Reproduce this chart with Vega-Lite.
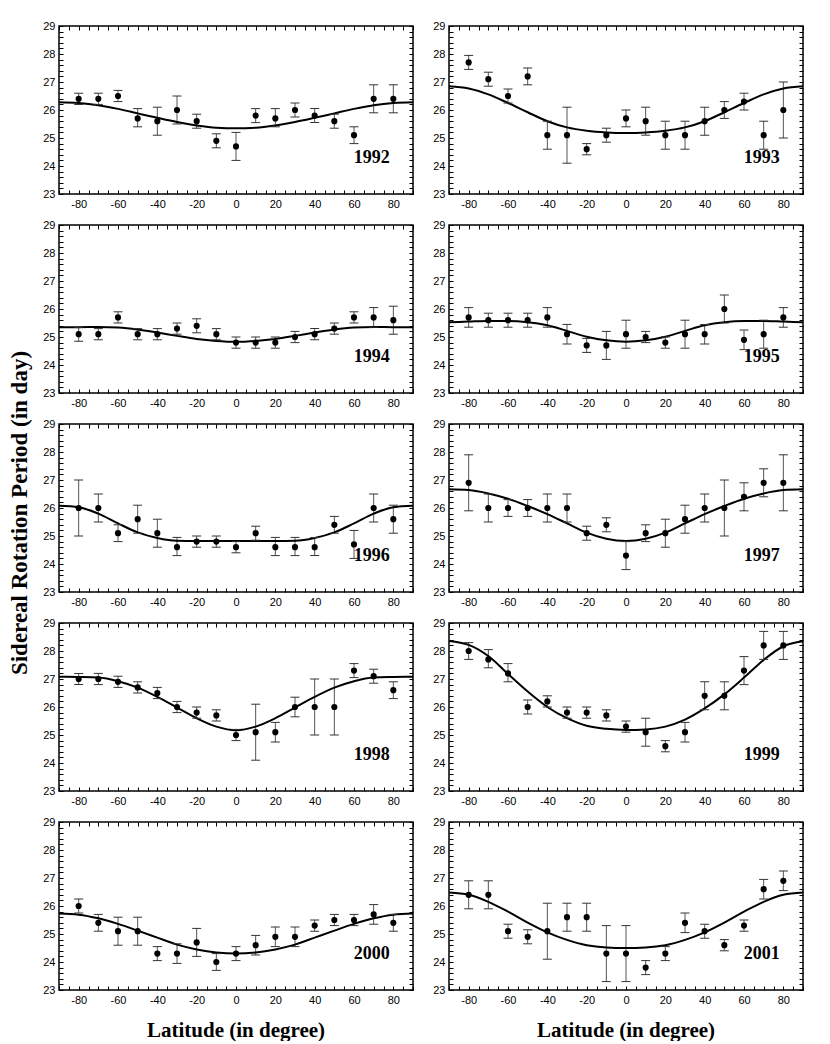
{
  "$schema": "https://vega.github.io/schema/vega-lite/v6.json",
  "padding": {"left": 8, "top": 19, "right": 0, "bottom": 0},
  "data": {
    "values": [
      {"year": 1992, "lat": -80, "p": 26.4, "lo": 26.2, "hi": 26.6},
      {"year": 1992, "lat": -70, "p": 26.4, "lo": 26.2, "hi": 26.6},
      {"year": 1992, "lat": -60, "p": 26.5, "lo": 26.3, "hi": 26.7},
      {"year": 1992, "lat": -50, "p": 25.7, "lo": 25.4, "hi": 26.05},
      {"year": 1992, "lat": -40, "p": 25.6, "lo": 25.1, "hi": 26.1},
      {"year": 1992, "lat": -30, "p": 26.0, "lo": 25.5, "hi": 26.5},
      {"year": 1992, "lat": -20, "p": 25.6, "lo": 25.35, "hi": 25.85},
      {"year": 1992, "lat": -10, "p": 24.9, "lo": 24.65, "hi": 25.15},
      {"year": 1992, "lat": 0, "p": 24.7, "lo": 24.2, "hi": 25.2},
      {"year": 1992, "lat": 10, "p": 25.8, "lo": 25.55, "hi": 26.05},
      {"year": 1992, "lat": 20, "p": 25.7, "lo": 25.4, "hi": 26.05},
      {"year": 1992, "lat": 30, "p": 26.0, "lo": 25.75, "hi": 26.25},
      {"year": 1992, "lat": 40, "p": 25.8, "lo": 25.55, "hi": 26.05},
      {"year": 1992, "lat": 50, "p": 25.6, "lo": 25.35, "hi": 25.85},
      {"year": 1992, "lat": 60, "p": 25.1, "lo": 24.8, "hi": 25.4},
      {"year": 1992, "lat": 70, "p": 26.4, "lo": 25.9, "hi": 26.9},
      {"year": 1992, "lat": 80, "p": 26.4, "lo": 25.9, "hi": 26.9},

      {"year": 1993, "lat": -80, "p": 27.7, "lo": 27.45, "hi": 27.95},
      {"year": 1993, "lat": -70, "p": 27.1, "lo": 26.85, "hi": 27.35},
      {"year": 1993, "lat": -60, "p": 26.5, "lo": 26.25, "hi": 26.75},
      {"year": 1993, "lat": -50, "p": 27.2, "lo": 26.9, "hi": 27.5},
      {"year": 1993, "lat": -40, "p": 25.1, "lo": 24.6, "hi": 25.6},
      {"year": 1993, "lat": -30, "p": 25.1, "lo": 24.1, "hi": 26.1},
      {"year": 1993, "lat": -20, "p": 24.6, "lo": 24.4, "hi": 24.8},
      {"year": 1993, "lat": -10, "p": 25.1, "lo": 24.85, "hi": 25.35},
      {"year": 1993, "lat": 0, "p": 25.7, "lo": 25.4, "hi": 26.0},
      {"year": 1993, "lat": 10, "p": 25.6, "lo": 25.1, "hi": 26.1},
      {"year": 1993, "lat": 20, "p": 25.1, "lo": 24.6, "hi": 25.6},
      {"year": 1993, "lat": 30, "p": 25.1, "lo": 24.6, "hi": 25.6},
      {"year": 1993, "lat": 40, "p": 25.6, "lo": 25.1, "hi": 26.1},
      {"year": 1993, "lat": 50, "p": 26.0, "lo": 25.7, "hi": 26.3},
      {"year": 1993, "lat": 60, "p": 26.3, "lo": 26.0, "hi": 26.6},
      {"year": 1993, "lat": 70, "p": 25.1, "lo": 24.6, "hi": 25.6},
      {"year": 1993, "lat": 80, "p": 26.0, "lo": 25.0, "hi": 27.0},

      {"year": 1994, "lat": -80, "p": 25.1, "lo": 24.85, "hi": 25.35},
      {"year": 1994, "lat": -70, "p": 25.1, "lo": 24.9, "hi": 25.3},
      {"year": 1994, "lat": -60, "p": 25.7, "lo": 25.5, "hi": 25.9},
      {"year": 1994, "lat": -50, "p": 25.1, "lo": 24.9, "hi": 25.3},
      {"year": 1994, "lat": -40, "p": 25.1, "lo": 24.9, "hi": 25.3},
      {"year": 1994, "lat": -30, "p": 25.3, "lo": 25.1, "hi": 25.5},
      {"year": 1994, "lat": -20, "p": 25.4, "lo": 25.15, "hi": 25.65},
      {"year": 1994, "lat": -10, "p": 25.1, "lo": 24.9, "hi": 25.3},
      {"year": 1994, "lat": 0, "p": 24.8, "lo": 24.6, "hi": 25.0},
      {"year": 1994, "lat": 10, "p": 24.8, "lo": 24.6, "hi": 25.0},
      {"year": 1994, "lat": 20, "p": 24.8, "lo": 24.6, "hi": 25.0},
      {"year": 1994, "lat": 30, "p": 25.0, "lo": 24.8, "hi": 25.2},
      {"year": 1994, "lat": 40, "p": 25.1, "lo": 24.9, "hi": 25.3},
      {"year": 1994, "lat": 50, "p": 25.3, "lo": 25.1, "hi": 25.5},
      {"year": 1994, "lat": 60, "p": 25.7, "lo": 25.5, "hi": 25.9},
      {"year": 1994, "lat": 70, "p": 25.7, "lo": 25.35, "hi": 26.05},
      {"year": 1994, "lat": 80, "p": 25.6, "lo": 25.1, "hi": 26.1},

      {"year": 1995, "lat": -80, "p": 25.7, "lo": 25.35, "hi": 26.05},
      {"year": 1995, "lat": -70, "p": 25.6, "lo": 25.35, "hi": 25.85},
      {"year": 1995, "lat": -60, "p": 25.6, "lo": 25.35, "hi": 25.85},
      {"year": 1995, "lat": -50, "p": 25.6, "lo": 25.35, "hi": 25.85},
      {"year": 1995, "lat": -40, "p": 25.7, "lo": 25.35, "hi": 26.05},
      {"year": 1995, "lat": -30, "p": 25.1, "lo": 24.75, "hi": 25.45},
      {"year": 1995, "lat": -20, "p": 24.7, "lo": 24.45, "hi": 24.95},
      {"year": 1995, "lat": -10, "p": 24.7, "lo": 24.2, "hi": 25.2},
      {"year": 1995, "lat": 0, "p": 25.1, "lo": 24.6, "hi": 25.6},
      {"year": 1995, "lat": 10, "p": 25.0, "lo": 24.8, "hi": 25.2},
      {"year": 1995, "lat": 20, "p": 24.8, "lo": 24.6, "hi": 25.0},
      {"year": 1995, "lat": 30, "p": 25.1, "lo": 24.6, "hi": 25.6},
      {"year": 1995, "lat": 40, "p": 25.1, "lo": 24.75, "hi": 25.45},
      {"year": 1995, "lat": 50, "p": 26.0, "lo": 25.5, "hi": 26.5},
      {"year": 1995, "lat": 60, "p": 24.9, "lo": 24.55, "hi": 25.25},
      {"year": 1995, "lat": 70, "p": 25.1, "lo": 24.6, "hi": 25.6},
      {"year": 1995, "lat": 80, "p": 25.7, "lo": 25.35, "hi": 26.05},

      {"year": 1996, "lat": -80, "p": 26.0, "lo": 25.0, "hi": 27.0},
      {"year": 1996, "lat": -70, "p": 26.0, "lo": 25.5, "hi": 26.5},
      {"year": 1996, "lat": -60, "p": 25.1, "lo": 24.8, "hi": 25.4},
      {"year": 1996, "lat": -50, "p": 25.6, "lo": 25.1, "hi": 26.1},
      {"year": 1996, "lat": -40, "p": 25.1, "lo": 24.6, "hi": 25.6},
      {"year": 1996, "lat": -30, "p": 24.6, "lo": 24.3, "hi": 24.95},
      {"year": 1996, "lat": -20, "p": 24.8, "lo": 24.6, "hi": 25.0},
      {"year": 1996, "lat": -10, "p": 24.8, "lo": 24.6, "hi": 25.0},
      {"year": 1996, "lat": 0, "p": 24.6, "lo": 24.4, "hi": 24.8},
      {"year": 1996, "lat": 10, "p": 25.1, "lo": 24.85, "hi": 25.35},
      {"year": 1996, "lat": 20, "p": 24.6, "lo": 24.3, "hi": 24.95},
      {"year": 1996, "lat": 30, "p": 24.6, "lo": 24.3, "hi": 24.95},
      {"year": 1996, "lat": 40, "p": 24.6, "lo": 24.3, "hi": 24.95},
      {"year": 1996, "lat": 50, "p": 25.4, "lo": 25.1, "hi": 25.7},
      {"year": 1996, "lat": 60, "p": 24.7, "lo": 24.2, "hi": 25.2},
      {"year": 1996, "lat": 70, "p": 26.0, "lo": 25.5, "hi": 26.5},
      {"year": 1996, "lat": 80, "p": 25.6, "lo": 25.1, "hi": 26.1},

      {"year": 1997, "lat": -80, "p": 26.9, "lo": 25.9, "hi": 27.9},
      {"year": 1997, "lat": -70, "p": 26.0, "lo": 25.5, "hi": 26.5},
      {"year": 1997, "lat": -60, "p": 26.0, "lo": 25.7, "hi": 26.3},
      {"year": 1997, "lat": -50, "p": 26.0, "lo": 25.7, "hi": 26.3},
      {"year": 1997, "lat": -40, "p": 26.0, "lo": 25.5, "hi": 26.5},
      {"year": 1997, "lat": -30, "p": 26.0, "lo": 25.5, "hi": 26.5},
      {"year": 1997, "lat": -20, "p": 25.1, "lo": 24.85, "hi": 25.35},
      {"year": 1997, "lat": -10, "p": 25.4, "lo": 25.15, "hi": 25.65},
      {"year": 1997, "lat": 0, "p": 24.3, "lo": 23.8, "hi": 24.8},
      {"year": 1997, "lat": 10, "p": 25.1, "lo": 24.8, "hi": 25.4},
      {"year": 1997, "lat": 20, "p": 25.1, "lo": 24.6, "hi": 25.6},
      {"year": 1997, "lat": 30, "p": 25.6, "lo": 25.1, "hi": 26.1},
      {"year": 1997, "lat": 40, "p": 26.0, "lo": 25.5, "hi": 26.5},
      {"year": 1997, "lat": 50, "p": 26.0, "lo": 25.0, "hi": 27.0},
      {"year": 1997, "lat": 60, "p": 26.4, "lo": 25.9, "hi": 26.9},
      {"year": 1997, "lat": 70, "p": 26.9, "lo": 26.4, "hi": 27.4},
      {"year": 1997, "lat": 80, "p": 26.9, "lo": 25.9, "hi": 27.9},

      {"year": 1998, "lat": -80, "p": 27.0, "lo": 26.8, "hi": 27.2},
      {"year": 1998, "lat": -70, "p": 27.0, "lo": 26.8, "hi": 27.2},
      {"year": 1998, "lat": -60, "p": 26.9, "lo": 26.7, "hi": 27.1},
      {"year": 1998, "lat": -50, "p": 26.7, "lo": 26.5, "hi": 26.9},
      {"year": 1998, "lat": -40, "p": 26.5, "lo": 26.3, "hi": 26.7},
      {"year": 1998, "lat": -30, "p": 26.0, "lo": 25.8, "hi": 26.2},
      {"year": 1998, "lat": -20, "p": 25.8, "lo": 25.6, "hi": 26.0},
      {"year": 1998, "lat": -10, "p": 25.7, "lo": 25.5, "hi": 25.9},
      {"year": 1998, "lat": 0, "p": 25.0, "lo": 24.8, "hi": 25.2},
      {"year": 1998, "lat": 10, "p": 25.1, "lo": 24.1, "hi": 26.1},
      {"year": 1998, "lat": 20, "p": 25.1, "lo": 24.75, "hi": 25.45},
      {"year": 1998, "lat": 30, "p": 26.0, "lo": 25.65, "hi": 26.35},
      {"year": 1998, "lat": 40, "p": 26.0, "lo": 25.0, "hi": 27.0},
      {"year": 1998, "lat": 50, "p": 26.0, "lo": 25.0, "hi": 27.0},
      {"year": 1998, "lat": 60, "p": 27.3, "lo": 27.05, "hi": 27.55},
      {"year": 1998, "lat": 70, "p": 27.1, "lo": 26.85, "hi": 27.35},
      {"year": 1998, "lat": 80, "p": 26.6, "lo": 26.3, "hi": 26.9},

      {"year": 1999, "lat": -80, "p": 28.0, "lo": 27.7, "hi": 28.3},
      {"year": 1999, "lat": -70, "p": 27.7, "lo": 27.4, "hi": 28.05},
      {"year": 1999, "lat": -60, "p": 27.2, "lo": 26.9, "hi": 27.55},
      {"year": 1999, "lat": -50, "p": 26.0, "lo": 25.75, "hi": 26.25},
      {"year": 1999, "lat": -40, "p": 26.2, "lo": 26.0, "hi": 26.4},
      {"year": 1999, "lat": -30, "p": 25.8, "lo": 25.6, "hi": 26.0},
      {"year": 1999, "lat": -20, "p": 25.8, "lo": 25.6, "hi": 26.0},
      {"year": 1999, "lat": -10, "p": 25.7, "lo": 25.5, "hi": 25.9},
      {"year": 1999, "lat": 0, "p": 25.3, "lo": 25.1, "hi": 25.5},
      {"year": 1999, "lat": 10, "p": 25.1, "lo": 24.6, "hi": 25.6},
      {"year": 1999, "lat": 20, "p": 24.6, "lo": 24.4, "hi": 24.8},
      {"year": 1999, "lat": 30, "p": 25.1, "lo": 24.75, "hi": 25.45},
      {"year": 1999, "lat": 40, "p": 26.4, "lo": 25.9, "hi": 26.9},
      {"year": 1999, "lat": 50, "p": 26.4, "lo": 25.9, "hi": 26.9},
      {"year": 1999, "lat": 60, "p": 27.3, "lo": 26.8, "hi": 27.8},
      {"year": 1999, "lat": 70, "p": 28.2, "lo": 27.7, "hi": 28.7},
      {"year": 1999, "lat": 80, "p": 28.2, "lo": 27.7, "hi": 28.7},

      {"year": 2000, "lat": -80, "p": 26.0, "lo": 25.75, "hi": 26.25},
      {"year": 2000, "lat": -70, "p": 25.4, "lo": 25.1, "hi": 25.7},
      {"year": 2000, "lat": -60, "p": 25.1, "lo": 24.6, "hi": 25.6},
      {"year": 2000, "lat": -50, "p": 25.1, "lo": 24.6, "hi": 25.6},
      {"year": 2000, "lat": -40, "p": 24.3, "lo": 24.05, "hi": 24.55},
      {"year": 2000, "lat": -30, "p": 24.3, "lo": 23.95, "hi": 24.65},
      {"year": 2000, "lat": -20, "p": 24.7, "lo": 24.2, "hi": 25.2},
      {"year": 2000, "lat": -10, "p": 24.0, "lo": 23.7, "hi": 24.3},
      {"year": 2000, "lat": 0, "p": 24.3, "lo": 24.05, "hi": 24.55},
      {"year": 2000, "lat": 10, "p": 24.6, "lo": 24.25, "hi": 24.95},
      {"year": 2000, "lat": 20, "p": 24.9, "lo": 24.55, "hi": 25.25},
      {"year": 2000, "lat": 30, "p": 24.9, "lo": 24.55, "hi": 25.25},
      {"year": 2000, "lat": 40, "p": 25.3, "lo": 25.1, "hi": 25.5},
      {"year": 2000, "lat": 50, "p": 25.5, "lo": 25.3, "hi": 25.7},
      {"year": 2000, "lat": 60, "p": 25.5, "lo": 25.3, "hi": 25.7},
      {"year": 2000, "lat": 70, "p": 25.7, "lo": 25.35, "hi": 26.05},
      {"year": 2000, "lat": 80, "p": 25.4, "lo": 25.1, "hi": 25.7},

      {"year": 2001, "lat": -80, "p": 26.4, "lo": 25.9, "hi": 26.9},
      {"year": 2001, "lat": -70, "p": 26.4, "lo": 25.9, "hi": 26.9},
      {"year": 2001, "lat": -60, "p": 25.1, "lo": 24.85, "hi": 25.35},
      {"year": 2001, "lat": -50, "p": 24.9, "lo": 24.65, "hi": 25.15},
      {"year": 2001, "lat": -40, "p": 25.1, "lo": 24.1, "hi": 26.1},
      {"year": 2001, "lat": -30, "p": 25.6, "lo": 25.1, "hi": 26.1},
      {"year": 2001, "lat": -20, "p": 25.6, "lo": 25.1, "hi": 26.1},
      {"year": 2001, "lat": -10, "p": 24.3, "lo": 23.3, "hi": 25.3},
      {"year": 2001, "lat": 0, "p": 24.3, "lo": 23.3, "hi": 25.3},
      {"year": 2001, "lat": 10, "p": 23.8, "lo": 23.55, "hi": 24.05},
      {"year": 2001, "lat": 20, "p": 24.3, "lo": 24.05, "hi": 24.55},
      {"year": 2001, "lat": 30, "p": 25.4, "lo": 25.05, "hi": 25.75},
      {"year": 2001, "lat": 40, "p": 25.1, "lo": 24.85, "hi": 25.35},
      {"year": 2001, "lat": 50, "p": 24.6, "lo": 24.4, "hi": 24.8},
      {"year": 2001, "lat": 60, "p": 25.3, "lo": 25.1, "hi": 25.5},
      {"year": 2001, "lat": 70, "p": 26.6, "lo": 26.25, "hi": 26.95},
      {"year": 2001, "lat": 80, "p": 26.9, "lo": 26.55, "hi": 27.25},

      {"year": 1992, "lat": -90, "f": 26.28}, {"year": 1992, "lat": -80, "f": 26.25}, {"year": 1992, "lat": -70, "f": 26.17}, {"year": 1992, "lat": -60, "f": 26.04}, {"year": 1992, "lat": -50, "f": 25.88}, {"year": 1992, "lat": -40, "f": 25.72}, {"year": 1992, "lat": -30, "f": 25.57}, {"year": 1992, "lat": -20, "f": 25.45}, {"year": 1992, "lat": -10, "f": 25.37}, {"year": 1992, "lat": 0, "f": 25.35},
      {"year": 1992, "lat": 10, "f": 25.37}, {"year": 1992, "lat": 20, "f": 25.45}, {"year": 1992, "lat": 30, "f": 25.57}, {"year": 1992, "lat": 40, "f": 25.72}, {"year": 1992, "lat": 50, "f": 25.88}, {"year": 1992, "lat": 60, "f": 26.04}, {"year": 1992, "lat": 70, "f": 26.17}, {"year": 1992, "lat": 80, "f": 26.25}, {"year": 1992, "lat": 90, "f": 26.28},

      {"year": 1993, "lat": -90, "f": 26.85}, {"year": 1993, "lat": -80, "f": 26.77}, {"year": 1993, "lat": -70, "f": 26.56}, {"year": 1993, "lat": -60, "f": 26.25}, {"year": 1993, "lat": -50, "f": 25.92}, {"year": 1993, "lat": -40, "f": 25.6}, {"year": 1993, "lat": -30, "f": 25.38}, {"year": 1993, "lat": -20, "f": 25.26}, {"year": 1993, "lat": -10, "f": 25.2}, {"year": 1993, "lat": 0, "f": 25.18},
      {"year": 1993, "lat": 10, "f": 25.2}, {"year": 1993, "lat": 20, "f": 25.26}, {"year": 1993, "lat": 30, "f": 25.38}, {"year": 1993, "lat": 40, "f": 25.6}, {"year": 1993, "lat": 50, "f": 25.92}, {"year": 1993, "lat": 60, "f": 26.25}, {"year": 1993, "lat": 70, "f": 26.56}, {"year": 1993, "lat": 80, "f": 26.77}, {"year": 1993, "lat": 90, "f": 26.85},

      {"year": 1994, "lat": -90, "f": 25.35}, {"year": 1994, "lat": -80, "f": 25.35}, {"year": 1994, "lat": -70, "f": 25.36}, {"year": 1994, "lat": -60, "f": 25.34}, {"year": 1994, "lat": -50, "f": 25.27}, {"year": 1994, "lat": -40, "f": 25.16}, {"year": 1994, "lat": -30, "f": 25.04}, {"year": 1994, "lat": -20, "f": 24.93}, {"year": 1994, "lat": -10, "f": 24.86}, {"year": 1994, "lat": 0, "f": 24.83},
      {"year": 1994, "lat": 10, "f": 24.86}, {"year": 1994, "lat": 20, "f": 24.93}, {"year": 1994, "lat": 30, "f": 25.04}, {"year": 1994, "lat": 40, "f": 25.16}, {"year": 1994, "lat": 50, "f": 25.27}, {"year": 1994, "lat": 60, "f": 25.34}, {"year": 1994, "lat": 70, "f": 25.36}, {"year": 1994, "lat": 80, "f": 25.35}, {"year": 1994, "lat": 90, "f": 25.35},

      {"year": 1995, "lat": -90, "f": 25.53}, {"year": 1995, "lat": -80, "f": 25.55}, {"year": 1995, "lat": -70, "f": 25.57}, {"year": 1995, "lat": -60, "f": 25.57}, {"year": 1995, "lat": -50, "f": 25.53}, {"year": 1995, "lat": -40, "f": 25.42}, {"year": 1995, "lat": -30, "f": 25.22}, {"year": 1995, "lat": -20, "f": 25.01}, {"year": 1995, "lat": -10, "f": 24.88}, {"year": 1995, "lat": 0, "f": 24.83},
      {"year": 1995, "lat": 10, "f": 24.88}, {"year": 1995, "lat": 20, "f": 25.01}, {"year": 1995, "lat": 30, "f": 25.22}, {"year": 1995, "lat": 40, "f": 25.42}, {"year": 1995, "lat": 50, "f": 25.53}, {"year": 1995, "lat": 60, "f": 25.57}, {"year": 1995, "lat": 70, "f": 25.57}, {"year": 1995, "lat": 80, "f": 25.55}, {"year": 1995, "lat": 90, "f": 25.53},

      {"year": 1996, "lat": -90, "f": 26.08}, {"year": 1996, "lat": -80, "f": 26.03}, {"year": 1996, "lat": -70, "f": 25.8}, {"year": 1996, "lat": -60, "f": 25.45}, {"year": 1996, "lat": -50, "f": 25.13}, {"year": 1996, "lat": -40, "f": 24.93}, {"year": 1996, "lat": -30, "f": 24.83}, {"year": 1996, "lat": -20, "f": 24.82}, {"year": 1996, "lat": -10, "f": 24.82}, {"year": 1996, "lat": 0, "f": 24.82},
      {"year": 1996, "lat": 10, "f": 24.82}, {"year": 1996, "lat": 20, "f": 24.82}, {"year": 1996, "lat": 30, "f": 24.83}, {"year": 1996, "lat": 40, "f": 24.93}, {"year": 1996, "lat": 50, "f": 25.13}, {"year": 1996, "lat": 60, "f": 25.45}, {"year": 1996, "lat": 70, "f": 25.8}, {"year": 1996, "lat": 80, "f": 26.03}, {"year": 1996, "lat": 90, "f": 26.08},

      {"year": 1997, "lat": -90, "f": 26.67}, {"year": 1997, "lat": -80, "f": 26.64}, {"year": 1997, "lat": -70, "f": 26.52}, {"year": 1997, "lat": -60, "f": 26.33}, {"year": 1997, "lat": -50, "f": 26.07}, {"year": 1997, "lat": -40, "f": 25.78}, {"year": 1997, "lat": -30, "f": 25.45}, {"year": 1997, "lat": -20, "f": 25.12}, {"year": 1997, "lat": -10, "f": 24.9}, {"year": 1997, "lat": 0, "f": 24.82},
      {"year": 1997, "lat": 10, "f": 24.9}, {"year": 1997, "lat": 20, "f": 25.12}, {"year": 1997, "lat": 30, "f": 25.45}, {"year": 1997, "lat": 40, "f": 25.78}, {"year": 1997, "lat": 50, "f": 26.07}, {"year": 1997, "lat": 60, "f": 26.33}, {"year": 1997, "lat": 70, "f": 26.52}, {"year": 1997, "lat": 80, "f": 26.64}, {"year": 1997, "lat": 90, "f": 26.67},

      {"year": 1998, "lat": -90, "f": 27.08}, {"year": 1998, "lat": -80, "f": 27.07}, {"year": 1998, "lat": -70, "f": 27.05}, {"year": 1998, "lat": -60, "f": 26.92}, {"year": 1998, "lat": -50, "f": 26.69}, {"year": 1998, "lat": -40, "f": 26.36}, {"year": 1998, "lat": -30, "f": 25.98}, {"year": 1998, "lat": -20, "f": 25.6}, {"year": 1998, "lat": -10, "f": 25.3}, {"year": 1998, "lat": 0, "f": 25.17},
      {"year": 1998, "lat": 10, "f": 25.3}, {"year": 1998, "lat": 20, "f": 25.6}, {"year": 1998, "lat": 30, "f": 25.98}, {"year": 1998, "lat": 40, "f": 26.36}, {"year": 1998, "lat": 50, "f": 26.69}, {"year": 1998, "lat": 60, "f": 26.92}, {"year": 1998, "lat": 70, "f": 27.05}, {"year": 1998, "lat": 80, "f": 27.07}, {"year": 1998, "lat": 90, "f": 27.08},

      {"year": 1999, "lat": -90, "f": 28.36}, {"year": 1999, "lat": -80, "f": 28.22}, {"year": 1999, "lat": -70, "f": 27.82}, {"year": 1999, "lat": -60, "f": 27.18}, {"year": 1999, "lat": -50, "f": 26.55}, {"year": 1999, "lat": -40, "f": 26.0}, {"year": 1999, "lat": -30, "f": 25.6}, {"year": 1999, "lat": -20, "f": 25.33}, {"year": 1999, "lat": -10, "f": 25.22}, {"year": 1999, "lat": 0, "f": 25.18},
      {"year": 1999, "lat": 10, "f": 25.2}, {"year": 1999, "lat": 20, "f": 25.3}, {"year": 1999, "lat": 30, "f": 25.55}, {"year": 1999, "lat": 40, "f": 25.95}, {"year": 1999, "lat": 50, "f": 26.45}, {"year": 1999, "lat": 60, "f": 27.05}, {"year": 1999, "lat": 70, "f": 27.68}, {"year": 1999, "lat": 80, "f": 28.17}, {"year": 1999, "lat": 90, "f": 28.35},

      {"year": 2000, "lat": -90, "f": 25.73}, {"year": 2000, "lat": -80, "f": 25.69}, {"year": 2000, "lat": -70, "f": 25.56}, {"year": 2000, "lat": -60, "f": 25.36}, {"year": 2000, "lat": -50, "f": 25.12}, {"year": 2000, "lat": -40, "f": 24.87}, {"year": 2000, "lat": -30, "f": 24.62}, {"year": 2000, "lat": -20, "f": 24.45}, {"year": 2000, "lat": -10, "f": 24.34}, {"year": 2000, "lat": 0, "f": 24.3},
      {"year": 2000, "lat": 10, "f": 24.34}, {"year": 2000, "lat": 20, "f": 24.45}, {"year": 2000, "lat": 30, "f": 24.62}, {"year": 2000, "lat": 40, "f": 24.87}, {"year": 2000, "lat": 50, "f": 25.12}, {"year": 2000, "lat": 60, "f": 25.36}, {"year": 2000, "lat": 70, "f": 25.56}, {"year": 2000, "lat": 80, "f": 25.69}, {"year": 2000, "lat": 90, "f": 25.73},

      {"year": 2001, "lat": -90, "f": 26.48}, {"year": 2001, "lat": -80, "f": 26.4}, {"year": 2001, "lat": -70, "f": 26.15}, {"year": 2001, "lat": -60, "f": 25.8}, {"year": 2001, "lat": -50, "f": 25.41}, {"year": 2001, "lat": -40, "f": 25.06}, {"year": 2001, "lat": -30, "f": 24.79}, {"year": 2001, "lat": -20, "f": 24.6}, {"year": 2001, "lat": -10, "f": 24.52}, {"year": 2001, "lat": 0, "f": 24.5},
      {"year": 2001, "lat": 10, "f": 24.52}, {"year": 2001, "lat": 20, "f": 24.6}, {"year": 2001, "lat": 30, "f": 24.79}, {"year": 2001, "lat": 40, "f": 25.06}, {"year": 2001, "lat": 50, "f": 25.41}, {"year": 2001, "lat": 60, "f": 25.8}, {"year": 2001, "lat": 70, "f": 26.15}, {"year": 2001, "lat": 80, "f": 26.4}, {"year": 2001, "lat": 90, "f": 26.48}
    ]
  },
  "transform": [
    {"calculate": "floor((datum.year - 1992) / 2)", "as": "r"},
    {"calculate": "(datum.year - 1992) % 2", "as": "c"}
  ],
  "facet": {
    "row": {
      "field": "r", "type": "ordinal",
      "header": {
        "labels": false,
        "title": "Sidereal Rotation Period (in day)",
        "titleFont": "Liberation Serif", "titleFontWeight": "bold", "titleFontSize": 23,
        "titlePadding": 0
      }
    },
    "column": {
      "field": "c", "type": "ordinal", "title": null,
      "header": {
        "labelOrient": "bottom",
        "labelExpr": "'Latitude (in degree)'",
        "labelFont": "Liberation Serif", "labelFontWeight": "bold", "labelFontSize": 21,
        "labelColor": "black",
        "labelPadding": 14
      }
    }
  },
  "spacing": {"row": 8, "column": 14},
  "resolve": {"axis": {"x": "independent", "y": "independent"}},
  "spec": {
    "width": 354,
    "height": 168,
    "resolve": {"axis": {"x": "independent", "y": "independent"}},
    "layer": [
      {
        "transform": [{"filter": "isValid(datum.p)"}],
        "mark": {"type": "rule", "color": "#555", "strokeWidth": 1},
        "encoding": {
          "x": {"field": "lat", "type": "quantitative", "scale": {"domain": [-90, 90], "nice": false},
                "axis": {"orient": "bottom", "values": [-90,-85,-80,-75,-70,-65,-60,-55,-50,-45,-40,-35,-30,-25,-20,-15,-10,-5,0,5,10,15,20,25,30,35,40,45,50,55,60,65,70,75,80,85,90],
                         "labelExpr": "datum.value % 20 == 0 ? '' + datum.value : ''", "labelOverlap": false, "labelFlush": false}},
          "y": {"field": "lo", "type": "quantitative", "scale": {"domain": [23, 29], "nice": false, "zero": false},
                "axis": {"orient": "left", "values": [23,23.2,23.4,23.6,23.8,24,24.2,24.4,24.6,24.8,25,25.2,25.4,25.6,25.8,26,26.2,26.4,26.6,26.8,27,27.2,27.4,27.6,27.8,28,28.2,28.4,28.6,28.8,29],
                         "labelExpr": "datum.value % 1 == 0 ? '' + datum.value : ''", "labelOverlap": false, "labelFlush": false}},
          "y2": {"field": "hi"}
        }
      },
      {
        "transform": [{"filter": "isValid(datum.f)"}],
        "mark": {"type": "line", "color": "black", "strokeWidth": 2, "interpolate": "monotone"},
        "encoding": {
          "x": {"field": "lat", "type": "quantitative", "scale": {"domain": [-90, 90], "nice": false},
                "axis": {"orient": "top", "labels": false, "values": [-90,-85,-80,-75,-70,-65,-60,-55,-50,-45,-40,-35,-30,-25,-20,-15,-10,-5,0,5,10,15,20,25,30,35,40,45,50,55,60,65,70,75,80,85,90]}},
          "y": {"field": "f", "type": "quantitative", "scale": {"domain": [23, 29], "nice": false, "zero": false},
                "axis": {"orient": "right", "labels": false, "values": [23,23.2,23.4,23.6,23.8,24,24.2,24.4,24.6,24.8,25,25.2,25.4,25.6,25.8,26,26.2,26.4,26.6,26.8,27,27.2,27.4,27.6,27.8,28,28.2,28.4,28.6,28.8,29]}}
        }
      },
      {
        "transform": [{"filter": "isValid(datum.p)"}],
        "mark": {"type": "tick", "orient": "horizontal", "size": 9, "thickness": 1, "color": "#333", "opacity": 1},
        "encoding": {
          "x": {"field": "lat", "type": "quantitative", "axis": null},
          "y": {"field": "lo", "type": "quantitative", "axis": null}
        }
      },
      {
        "transform": [{"filter": "isValid(datum.p)"}],
        "mark": {"type": "tick", "orient": "horizontal", "size": 9, "thickness": 1, "color": "#333", "opacity": 1},
        "encoding": {
          "x": {"field": "lat", "type": "quantitative", "axis": null},
          "y": {"field": "hi", "type": "quantitative", "axis": null}
        }
      },
      {
        "transform": [{"filter": "isValid(datum.p)"}],
        "mark": {"type": "circle", "color": "black", "size": 38, "opacity": 1},
        "encoding": {
          "x": {"field": "lat", "type": "quantitative", "axis": null},
          "y": {"field": "p", "type": "quantitative", "axis": null}
        }
      },
      {
        "transform": [{"aggregate": [{"op": "count", "as": "n"}], "groupby": ["year", "r", "c"]}],
        "mark": {"type": "text", "font": "Liberation Serif", "fontWeight": "bold", "fontSize": 18, "color": "black", "align": "center", "baseline": "middle"},
        "encoding": {
          "x": {"datum": 69, "type": "quantitative", "axis": null},
          "y": {"datum": 24.3, "type": "quantitative", "axis": null},
          "text": {"field": "year", "type": "nominal"}
        }
      }
    ]
  },
  "config": {
    "font": "Liberation Sans",
    "view": {"stroke": "black", "strokeWidth": 1.5},
    "axis": {
      "domain": false, "grid": false, "title": null,
      "labelFont": "Liberation Sans", "labelFontSize": 11, "labelColor": "black",
      "tickColor": "black", "tickWidth": 1, "tickSize": -4, "labelPadding": 8
    }
  }
}
